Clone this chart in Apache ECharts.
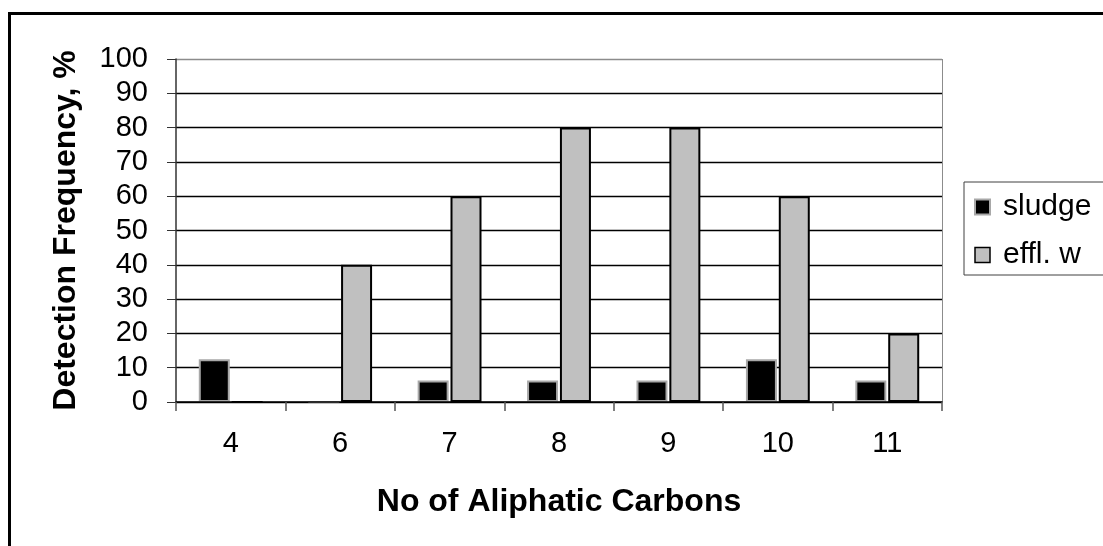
<!DOCTYPE html>
<html>
<head>
<meta charset="utf-8">
<script src="https://cdn.jsdelivr.net/npm/echarts@6/dist/echarts.min.js"></script>
<style>
  html, body { margin: 0; padding: 0; background: #fff; }
  #chart { width: 1103px; height: 546px; }
</style>
</head>
<body>
<div id="chart"></div>
<script>
// Number of aliphatic carbons (x categories)
const categories = ['4', '6', '7', '8', '9', '10', '11'];
// Detection frequency, %
const sludge = [12.5, 0, 6.25, 6.25, 6.25, 12.5, 6.25];
const effluentWater = [0, 40, 60, 80, 80, 60, 20];
const yTicks = [0, 10, 20, 30, 40, 50, 60, 70, 80, 90, 100];

const FONT = '"Liberation Sans", Arial, sans-serif';

// grid lines: black inside, grey on the top edge
const gridColors = yTicks.map((v, i) => (i === yTicks.length - 1 ? '#8c8c8c' : '#000'));

const chart = echarts.init(document.getElementById('chart'), null, { renderer: 'canvas' });

chart.setOption({
  backgroundColor: '#fff',
  animation: false,
  textStyle: { fontFamily: FONT },
  graphic: [
    {
      type: 'rect',
      shape: { x: 9.5, y: 13.5, width: 1300, height: 700 },
      style: { fill: 'none', stroke: '#000', lineWidth: 3 },
      z: 100
    },
    {
      type: 'line',
      shape: { x1: 942.5, y1: 59, x2: 942.5, y2: 402 },
      style: { stroke: '#8c8c8c', lineWidth: 1 },
      z: 1
    }
  ],
  legend: {
    orient: 'vertical',
    left: 964,
    top: 182,
    padding: [10, 200, 5, 10],
    itemGap: 18,
    itemWidth: 15,
    itemHeight: 15,
    borderColor: '#404040',
    borderWidth: 1,
    icon: 'rect',
    textStyle: { fontFamily: FONT, fontSize: 30, color: '#000', padding: [0, 0, 0, 8] },
    data: [
      { name: 'sludge', itemStyle: { color: '#000', borderColor: '#a8a8a8', borderWidth: 2 } },
      { name: 'effl. w', itemStyle: { color: '#c0c0c0', borderColor: '#000', borderWidth: 1.5 } }
    ]
  },
  grid: { left: 176, right: 161, top: 59, bottom: 144, containLabel: false },
  xAxis: {
    type: 'category',
    data: categories,
    z: 10,
    boundaryGap: true,
    axisLine: { lineStyle: { color: '#000', width: 1.5 } },
    axisTick: { show: true, length: 9, inside: false, lineStyle: { color: '#555', width: 1.5 } },
    axisLabel: { fontFamily: FONT, fontSize: 29, color: '#000', margin: 27 },
    name: 'No of Aliphatic Carbons',
    nameLocation: 'middle',
    nameGap: 84,
    nameTextStyle: { fontFamily: FONT, fontSize: 32, fontWeight: 'bold', color: '#000' }
  },
  yAxis: {
    type: 'value',
    min: 0,
    max: 100,
    interval: 10,
    axisLine: { show: true, lineStyle: { color: '#333', width: 1.5 } },
    axisTick: { show: true, length: 9, lineStyle: { color: '#333', width: 1 } },
    axisLabel: { fontFamily: FONT, fontSize: 29, color: '#000', margin: 28 },
    splitLine: { show: true, lineStyle: { color: gridColors, width: 1.3 } },
    name: 'Detection Frequency, %',
    nameLocation: 'middle',
    nameGap: 94,
    nameRotate: 90,
    nameTextStyle: { fontFamily: FONT, fontSize: 32, fontWeight: 'bold', color: '#000' }
  },
  series: [
    {
      name: 'sludge',
      type: 'bar',
      data: sludge,
      barWidth: 31,
      barGap: '6%',
      itemStyle: { color: '#000', borderColor: '#a8a8a8', borderWidth: 2 }
    },
    {
      name: 'effl. w',
      type: 'bar',
      data: effluentWater,
      barWidth: 31,
      itemStyle: { color: '#c0c0c0', borderColor: '#000', borderWidth: 2 }
    }
  ]
});
</script>
</body>
</html>
